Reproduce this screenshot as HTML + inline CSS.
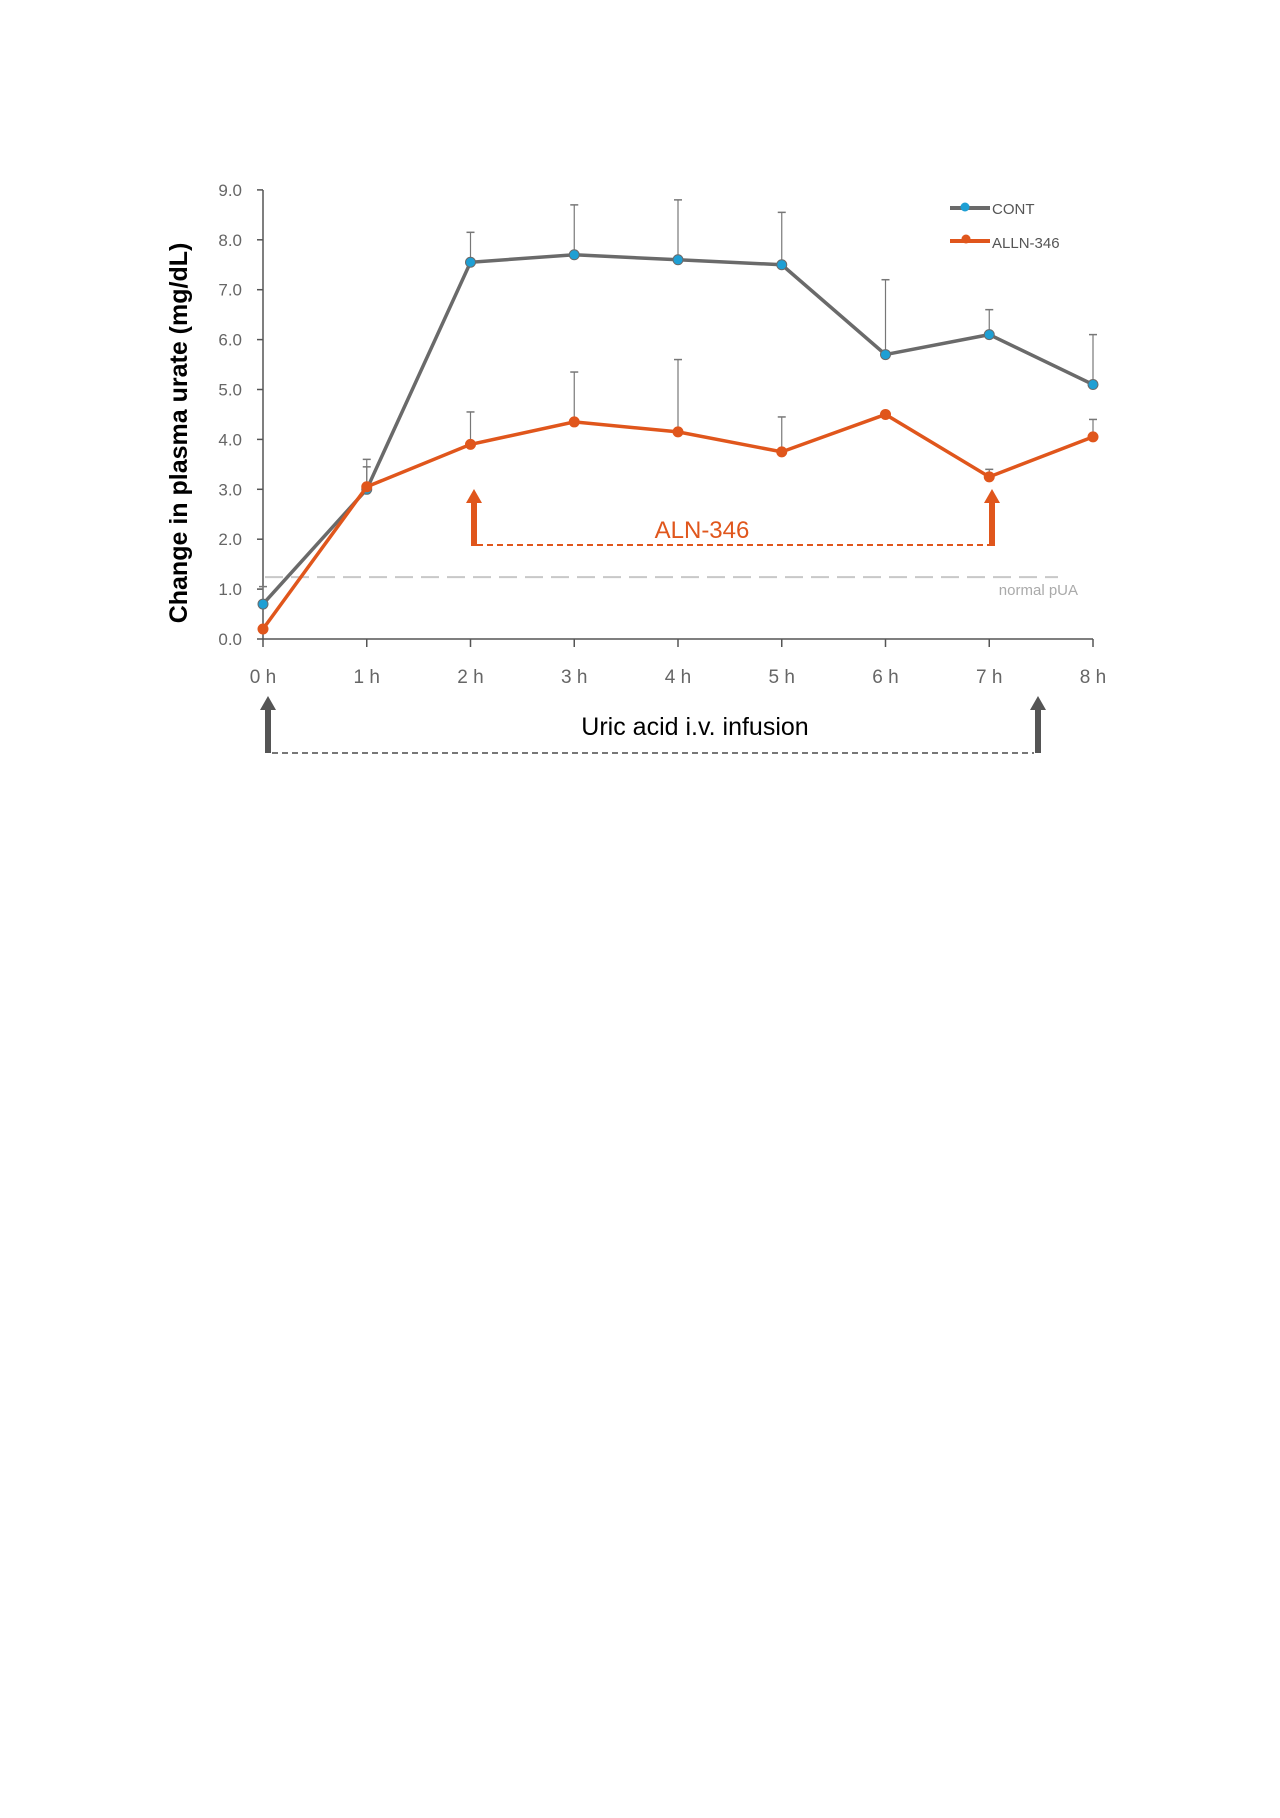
<!DOCTYPE html>
<html><head><meta charset="utf-8"><style>
body{margin:0;background:#fff;width:1280px;height:1813px;overflow:hidden}
svg{font-family:"Liberation Sans",sans-serif}
</style></head><body>
<svg width="1280" height="1813" id="chart">
<g id="g"></g>
</svg>
<script>
const hours=["0 h","1 h","2 h","3 h","4 h","5 h","6 h","7 h","8 h"];
const yTicks=[0,1,2,3,4,5,6,7,8,9];
const contVals=[0.7,3.0,7.55,7.7,7.6,7.5,5.7,6.1,5.1];
const contErr=[0.35,0.6,0.6,1.0,1.2,1.05,1.5,0.5,1.0];
const alnVals=[0.2,3.05,3.9,4.35,4.15,3.75,4.5,3.25,4.05];
const alnErr=[0.0,0.4,0.65,1.0,1.45,0.7,0.0,0.15,0.35];
const normalPUA=1.24;
const NS="http://www.w3.org/2000/svg";
const g=document.getElementById('g');
const X=i=>263+i*103.75;
const Y=v=>639-v*49.9;
function el(t,a,txt){const e=document.createElementNS(NS,t);for(const k in a)e.setAttribute(k,a[k]);if(txt!==undefined)e.textContent=txt;g.appendChild(e);return e;}
let ax=el('line',{x1:263,y1:190,x2:263,y2:639,stroke:'#555','stroke-width':1.5});

ax=el('line',{x1:263,y1:639,x2:X(8),y2:639,stroke:'#555','stroke-width':1.5});

yTicks.forEach(v=>{
 el('line',{x1:257,y1:Y(v),x2:263,y2:Y(v),stroke:'#555','stroke-width':1.5});
 const t=el('text',{x:242,y:Y(v)+6,'text-anchor':'end','font-size':17,fill:'#666'},v.toFixed(1));
 
});
hours.forEach((h,i)=>{
 el('line',{x1:X(i),y1:639,x2:X(i),y2:647,stroke:'#555','stroke-width':1.5});
 const t=el('text',{x:X(i),y:683,'text-anchor':'middle','font-size':19,fill:'#666'},h);
 
});
let yt=el('text',{x:0,y:0,transform:'translate(187,433) rotate(-90)','text-anchor':'middle','font-size':25,fill:'#000','font-weight':'bold'},'Change in plasma urate (mg/dL)');

let nl=el('line',{x1:265,y1:Y(normalPUA),x2:1058,y2:Y(normalPUA),stroke:'#c8c8c8','stroke-width':2,'stroke-dasharray':'18,8'});

let nt=el('text',{x:1078,y:595,'text-anchor':'end','font-size':15,fill:'#aaa'},'normal pUA');

function series(vals,errs,line,mark,name){
 vals.forEach((v,i)=>{if(errs[i]>0){
  const e=el('line',{x1:X(i),y1:Y(v),x2:X(i),y2:Y(v+errs[i]),stroke:'#777','stroke-width':1.2});
  
  el('line',{x1:X(i)-4,y1:Y(v+errs[i]),x2:X(i)+4,y2:Y(v+errs[i]),stroke:'#777','stroke-width':1.5});
 }});
 const p=el('polyline',{points:vals.map((v,i)=>X(i)+','+Y(v)).join(' '),fill:'none',stroke:line,'stroke-width':3.5});
 
 vals.forEach((v,i)=>{const c=el('circle',{cx:X(i),cy:Y(v),r:5,fill:mark,stroke:line,'stroke-width':1});
 });
}
series(contVals,contErr,'#6a6a6a','#1e9fd4','cont');
series(alnVals,alnErr,'#e0561c','#e0561c','aln346');
el('line',{x1:950,y1:208,x2:990,y2:208,stroke:'#6a6a6a','stroke-width':4});
el('circle',{cx:965,cy:207,r:4.5,fill:'#1e9fd4'});
let l1=el('text',{x:992,y:214,'font-size':15,fill:'#555'},'CONT');

el('line',{x1:950,y1:241,x2:990,y2:241,stroke:'#e0561c','stroke-width':4});
el('circle',{cx:966,cy:239,r:4.5,fill:'#e0561c'});
let l2=el('text',{x:992,y:248,'font-size':15,fill:'#555'},'ALLN-346');

function arrow(x,top,bot,col,w,name){
 const a=el('path',{d:`M${x-w},${top+14} L${x},${top} L${x+w},${top+14} L${x+3},${top+14} L${x+3},${bot} L${x-3},${bot} L${x-3},${top+14} Z`,fill:col});
 
}
arrow(474,489,546,'#e0561c',8,'aln-start-arrow');
arrow(992,489,546,'#e0561c',8,'aln-end-arrow');
el('line',{x1:477,y1:545,x2:989,y2:545,stroke:'#e0561c','stroke-width':2,'stroke-dasharray':'6,4'});
let at=el('text',{x:702,y:538,'text-anchor':'middle','font-size':24,fill:'#e0561c'},'ALN-346');

arrow(268,696,753,'#555',8,'infusion-start-arrow');
arrow(1038,696,753,'#555',8,'infusion-end-arrow');
el('line',{x1:272,y1:753,x2:1034,y2:753,stroke:'#777','stroke-width':2,'stroke-dasharray':'6,4'});
let ut=el('text',{x:695,y:735,'text-anchor':'middle','font-size':25,fill:'#000'},'Uric acid i.v. infusion');

</script>
</body></html>
